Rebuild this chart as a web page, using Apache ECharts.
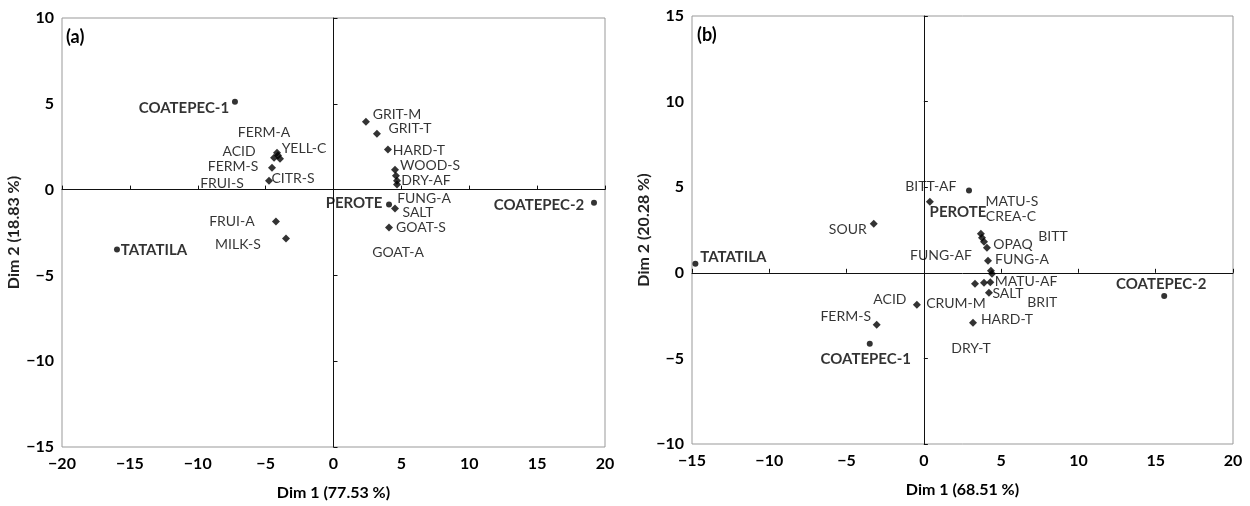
<!DOCTYPE html>
<html>
<head>
<meta charset="utf-8">
<script src="https://cdn.jsdelivr.net/npm/echarts@6/dist/echarts.min.js"></script>
<style>
    html, body { margin: 0; padding: 0; background: #fff; }
    #chart { width: 1250px; height: 506px; }
</style>
</head>
<body>
<div id="chart"></div>
<script>
// panel (a): products
var prodNamesA = ['COATEPEC-1', 'TATATILA', 'PEROTE', 'COATEPEC-2'];
var prodXA = [-7.26, -15.95, 4.09, 19.19];
var prodYA = [5.12, -3.49, -0.87, -0.76];
// panel (a): attributes
var attrNamesA = ['FERM-A', 'ACID', 'YELL-C', 'FRUI-S', 'FERM-S', 'CITR-S', 'FRUI-A', 'MILK-S',
    'GRIT-M', 'GRIT-T', 'HARD-T', 'WOOD-S', 'DRY-AF', 'FUNG-A', 'GOAT-A', 'SALT', 'GOAT-S'];
var attrXA = [-4.16, -4.38, -3.94, -4.09, -4.53, -4.75, -4.24, -3.50,
    2.39, 3.20, 4.01, 4.53, 4.60, 4.68, 4.68, 4.53, 4.09];
var attrYA = [2.15, 1.86, 1.80, 1.98, 1.28, 0.52, -1.86, -2.85,
    3.95, 3.26, 2.33, 1.16, 0.81, 0.52, 0.29, -1.10, -2.21];

// panel (b): products
var prodNamesB = ['TATATILA', 'PEROTE', 'COATEPEC-1', 'COATEPEC-2'];
var prodXB = [-14.78, 2.92, -3.50, 15.55];
var prodYB = [0.53, 4.80, -4.15, -1.35];
// panel (b): attributes
var attrNamesB = ['SOUR', 'BITT-AF', 'ACID', 'FERM-S', 'HARD-T', 'MATU-S', 'CREA-C', 'BITT', 'OPAQ',
    'FUNG-A', 'FUNG-AF', 'MATU-AF', 'DRY-T', 'CRUM-M', 'BRIT', 'SALT'];
var attrXB = [-3.24, 0.39, -0.45, -3.05, 3.18, 3.69, 3.76, 3.89, 4.08,
    4.15, 4.34, 4.41, 3.31, 3.89, 4.30, 4.21];
var attrYB = [2.87, 4.15, -1.87, -3.04, -2.92, 2.28, 2.05, 1.81, 1.46,
    0.70, 0.12, -0.06, -0.64, -0.58, -0.55, -1.17];

var xTicksA = [-20, 20, 5];
var yTicksA = [-15, 10, 5];
var xTicksB = [-15, 20, 5];
var yTicksB = [-10, 15, 5];

// label placement (pixel offsets from the marker)
var labelOffA = {
    'COATEPEC-1': [-51, 6], 'TATATILA': [37, 1], 'PEROTE': [-35, -1], 'COATEPEC-2': [-55, 3],
    'FERM-A': [-13, -20], 'ACID': [-35, -6], 'YELL-C': [24, -10], 'FRUI-S': [-56, 28],
    'FERM-S': [-39, -1], 'CITR-S': [24, -2], 'FRUI-A': [-44, 0], 'MILK-S': [-48, 6],
    'GRIT-M': [31, -7], 'GRIT-T': [33, -5], 'HARD-T': [31, 1], 'WOOD-S': [35, -4],
    'DRY-AF': [30, 5], 'FUNG-A': [27, 18], 'GOAT-A': [1, 68], 'SALT': [23, 4], 'GOAT-S': [32, 0]
};
var labelOffB = {
    'TATATILA': [38, -7], 'PEROTE': [-11, 22], 'COATEPEC-1': [-4, 15], 'COATEPEC-2': [-3, -12],
    'SOUR': [-26, 6], 'BITT-AF': [1, -15], 'ACID': [-27, -5], 'FERM-S': [-31, -8],
    'HARD-T': [34, -3], 'MATU-S': [31, -32], 'CREA-C': [29, -21], 'BITT': [69, -5],
    'OPAQ': [26, -3], 'FUNG-A': [34, -1], 'FUNG-AF': [-50, -15], 'MATU-AF': [34, 8],
    'DRY-T': [-4, 65], 'CRUM-M': [-28, 21], 'BRIT': [52, 20], 'SALT': [19, 1]
};

var font = 'Lato, "Liberation Sans", sans-serif';

function minus(v) {
    return String(v).replace('-', '\u2212');
}

function buildData(names, xs, ys, offs) {
    var out = [];
    for (var i = 0; i < names.length; i++) {
        out.push({
            name: names[i],
            value: [xs[i], ys[i]],
            label: {offset: offs[names[i]] || [0, 0]}
        });
    }
    return out;
}

function labelAxisX(grid, t, name) {
    return {
        type: 'value', gridIndex: grid, min: t[0], max: t[1], interval: t[2],
        position: 'bottom',
        axisLine: {show: false, onZero: false},
        axisTick: {show: false},
        splitLine: {show: false},
        axisLabel: {
            margin: 9, color: '#000', fontFamily: font, fontWeight: 'bold', fontSize: 16,
            formatter: minus
        },
        name: name, nameLocation: 'middle', nameGap: 38,
        nameTextStyle: {color: '#000', fontFamily: font, fontWeight: 'bold', fontSize: 16}
    };
}

function zeroAxisX(grid, t) {
    return {
        type: 'value', gridIndex: grid, min: t[0], max: t[1], interval: t[2],
        position: 'top',
        axisLine: {show: true, onZero: true, lineStyle: {color: '#111', width: 1}},
        axisTick: {show: true, length: 4, lineStyle: {color: '#111'}},
        axisLabel: {show: false},
        splitLine: {show: false}
    };
}

function labelAxisY(grid, t, name) {
    return {
        type: 'value', gridIndex: grid, min: t[0], max: t[1], interval: t[2],
        position: 'left',
        axisLine: {show: false, onZero: false},
        axisTick: {show: false},
        splitLine: {show: false},
        axisLabel: {
            margin: 8, color: '#000', fontFamily: font, fontWeight: 'bold', fontSize: 16,
            formatter: minus
        },
        name: name, nameLocation: 'middle', nameGap: 35, nameRotate: 90,
        nameTextStyle: {color: '#222', fontFamily: font, fontWeight: 'bold', fontSize: 16}
    };
}

function zeroAxisY(grid, t) {
    return {
        type: 'value', gridIndex: grid, min: t[0], max: t[1], interval: t[2],
        position: 'right',
        axisLine: {show: true, onZero: true, lineStyle: {color: '#111', width: 1}},
        axisTick: {show: true, length: 4, lineStyle: {color: '#111'}},
        axisLabel: {show: false},
        splitLine: {show: false}
    };
}

function scatter(xi, yi, data, symbol, size, bold) {
    return {
        type: 'scatter', xAxisIndex: xi, yAxisIndex: yi,
        symbol: symbol, symbolSize: size,
        itemStyle: {color: '#000'},
        label: {
            show: true, position: 'inside', formatter: '{b}',
            color: '#000', fontFamily: font, fontSize: bold ? 15 : 14,
            fontWeight: bold ? 'bold' : 'normal', textBorderWidth: 0
        },
        emphasis: {disabled: true},
        data: data
    };
}

var chart = echarts.init(document.getElementById('chart'), null, {renderer: 'canvas'});
chart.setOption({
    backgroundColor: '#fff',
    animation: false,
    grid: [
        {left: 62, top: 18, width: 543, height: 430, show: true, borderColor: '#999', borderWidth: 1},
        {left: 692, top: 16, width: 541, height: 428, show: true, borderColor: '#999', borderWidth: 1}
    ],
    xAxis: [
        labelAxisX(0, xTicksA, 'Dim 1 (77.53 %)'),
        zeroAxisX(0, xTicksA),
        labelAxisX(1, xTicksB, 'Dim 1 (68.51 %)'),
        zeroAxisX(1, xTicksB)
    ],
    yAxis: [
        labelAxisY(0, yTicksA, 'Dim 2 (18.83 %)'),
        zeroAxisY(0, yTicksA),
        labelAxisY(1, yTicksB, 'Dim 2 (20.28 %)'),
        zeroAxisY(1, yTicksB)
    ],
    graphic: [
        {type: 'text', left: 66, top: 28, style: {text: '(a)', fill: '#000', font: 'bold 18px ' + font}},
        {type: 'text', left: 697, top: 26, style: {text: '(b)', fill: '#000', font: 'bold 18px ' + font}}
    ],
    series: [
        scatter(0, 0, buildData(attrNamesA, attrXA, attrYA, labelOffA), 'diamond', 8, false),
        scatter(0, 0, buildData(prodNamesA, prodXA, prodYA, labelOffA), 'circle', 6, true),
        scatter(2, 2, buildData(attrNamesB, attrXB, attrYB, labelOffB), 'diamond', 8, false),
        scatter(2, 2, buildData(prodNamesB, prodXB, prodYB, labelOffB), 'circle', 6, true)
    ]
});
</script>
</body>
</html>
